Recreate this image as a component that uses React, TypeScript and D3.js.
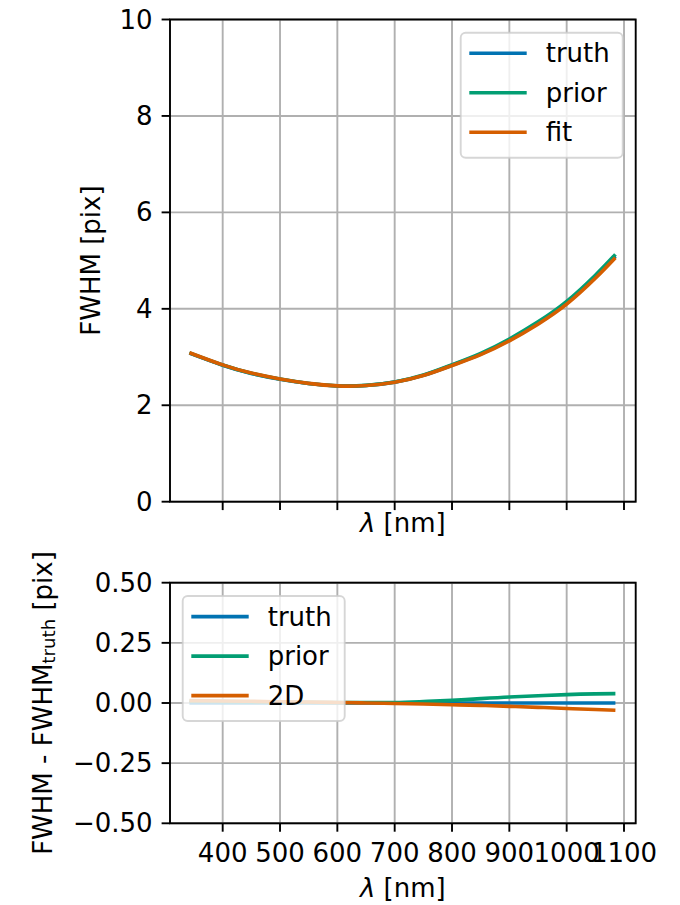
import React from "react";
import * as d3 from "d3";

// Wavelength samples [nm]
const LAMBDA = [342, 400, 450, 500, 550, 600, 650, 700, 750, 800, 850, 900, 950, 1000, 1050, 1085];
// True FWHM [pix]
const TRUTH = [3.08, 2.83, 2.66, 2.54, 2.45, 2.4, 2.41, 2.48, 2.62, 2.83, 3.06, 3.35, 3.7, 4.12, 4.66, 5.09];
// Residuals with respect to the truth [pix]
const TRUTH_RES = [0, 0, 0, 0, 0, 0, 0, 0, 0, 0, 0, 0, 0, 0, 0, 0];
const PRIOR_RES = [0.008, 0.006, 0.005, 0.004, 0.003, 0.002, 0.002, 0.002, 0.006, 0.011, 0.018, 0.025, 0.030, 0.035, 0.038, 0.039];
const FIT_RES = [0.010, 0.008, 0.007, 0.005, 0.004, 0.002, 0.0, -0.002, -0.004, -0.007, -0.010, -0.014, -0.018, -0.023, -0.027, -0.030];

const X_TICKS = [400, 500, 600, 700, 800, 900, 1000, 1100];
const TOP_Y_TICKS = [0, 2, 4, 6, 8, 10];
const BOT_Y_TICKS = [-0.5, -0.25, 0, 0.25, 0.5];
const TOP_LEGEND = ["truth", "prior", "fit"];
const BOT_LEGEND = ["truth", "prior", "2D"];

const COLORS = ["#0173b2", "#029e73", "#d55e00"];
const FONT = "DejaVu Sans, sans-serif";
const FS = 26;
const LW = 3.6;
const AX_LW = 1.9;
const TICK = 8.4;
const GRID = "#b0b0b0";

const X0 = 170;
const X1 = 635.7;
const TOP = { y0: 19.5, y1: 501.7 };
const BOT = { y0: 582.7, y1: 823.3 };

const x = d3.scaleLinear().domain([308.1, 1120.4]).range([X0, X1]);
const yTop = d3.scaleLinear().domain([0, 10]).range([TOP.y1, TOP.y0]);
const yBot = d3.scaleLinear().domain([-0.5, 0.5]).range([BOT.y1, BOT.y0]);

const topSeries = [
  TRUTH,
  TRUTH.map((v, i) => v + PRIOR_RES[i]),
  TRUTH.map((v, i) => v + FIT_RES[i]),
];
const botSeries = [TRUTH_RES, PRIOR_RES, FIT_RES];

function linePath(ys: number[], yScale: d3.ScaleLinear<number, number>) {
  const gen = d3
    .line<number>()
    .x((_, i) => x(LAMBDA[i]))
    .y((v) => yScale(v))
    .curve(d3.curveNatural);
  return gen(ys) || "";
}

function Legend({ bx, by, labels }: { bx: number; by: number; labels: string[] }) {
  const w = 162;
  const h = 125;
  return (
    <g>
      <rect x={bx} y={by} width={w} height={h} rx={5} fill="white" fillOpacity={0.8} stroke="#cccccc" strokeOpacity={0.8} strokeWidth={1.9} />
      {labels.map((lab, i) => {
        const cy = by + 20.6 + i * 39.5;
        return (
          <g key={lab}>
            <line x1={bx + 8.6} x2={bx + 66} y1={cy} y2={cy} stroke={COLORS[i]} strokeWidth={LW} />
            <text x={bx + 85} y={cy} dominantBaseline="central" fontSize={FS} fontFamily={FONT}>
              {lab}
            </text>
          </g>
        );
      })}
    </g>
  );
}

function Panel({
  y0,
  y1,
  yScale,
  yTicks,
  fmt,
  series,
  showXLabels,
  clipId,
}: {
  y0: number;
  y1: number;
  yScale: d3.ScaleLinear<number, number>;
  yTicks: number[];
  fmt: (v: number) => string;
  series: number[][];
  showXLabels: boolean;
  clipId: string;
}) {
  return (
    <g>
      <defs>
        <clipPath id={clipId}>
          <rect x={X0} y={y0} width={X1 - X0} height={y1 - y0} />
        </clipPath>
      </defs>
      {/* grid */}
      {X_TICKS.map((t) => (
        <line key={"gx" + t} x1={x(t)} x2={x(t)} y1={y0} y2={y1} stroke={GRID} strokeWidth={AX_LW} />
      ))}
      {yTicks.map((t) => (
        <line key={"gy" + t} x1={X0} x2={X1} y1={yScale(t)} y2={yScale(t)} stroke={GRID} strokeWidth={AX_LW} />
      ))}
      {/* data */}
      <g clipPath={`url(#${clipId})`}>
        {series.map((s, i) => (
          <path key={i} d={linePath(s, yScale)} fill="none" stroke={COLORS[i]} strokeWidth={LW} strokeLinejoin="round" />
        ))}
      </g>
      {/* x ticks */}
      {X_TICKS.map((t) => (
        <g key={"xt" + t}>
          <line x1={x(t)} x2={x(t)} y1={y1} y2={y1 + TICK} stroke="black" strokeWidth={AX_LW} />
          {showXLabels && (
            <text x={x(t)} y={y1 + 29.5} textAnchor="middle" dominantBaseline="central" fontSize={FS} fontFamily={FONT}>
              {t}
            </text>
          )}
        </g>
      ))}
      {/* y ticks */}
      {yTicks.map((t) => (
        <g key={"yt" + t}>
          <line x1={X0 - TICK} x2={X0} y1={yScale(t)} y2={yScale(t)} stroke="black" strokeWidth={AX_LW} />
          <text x={X0 - TICK - 9} y={yScale(t)} textAnchor="end" dominantBaseline="central" fontSize={FS} fontFamily={FONT}>
            {fmt(t)}
          </text>
        </g>
      ))}
      {/* spines */}
      <rect x={X0} y={y0} width={X1 - X0} height={y1 - y0} fill="none" stroke="black" strokeWidth={AX_LW} strokeLinejoin="miter" />
    </g>
  );
}

function XLabel({ y }: { y: number }) {
  return (
    <text x={(X0 + X1) / 2} y={y} textAnchor="middle" dominantBaseline="central" fontSize={FS} fontFamily={FONT}>
      <tspan fontStyle="italic">λ</tspan> [nm]
    </text>
  );
}

const fmtBot = (v: number) => d3.format(".2f")(v).replace("-", "\u2212");

export default function App() {
  return (
    <svg width={680} height={905} style={{ position: "absolute", left: 0, top: 0, background: "white" }}>
      <rect width={680} height={905} fill="white" />
      <Panel
        y0={TOP.y0}
        y1={TOP.y1}
        yScale={yTop}
        yTicks={TOP_Y_TICKS}
        fmt={(v) => String(v)}
        series={topSeries}
        showXLabels={false}
        clipId="clipTop"
      />
      <XLabel y={523} />
      <text
        transform={`translate(91,${(TOP.y0 + TOP.y1) / 2}) rotate(-90)`}
        textAnchor="middle"
        dominantBaseline="central"
        fontSize={FS}
        fontFamily={FONT}
      >
        FWHM [pix]
      </text>
      <Legend bx={460.7} by={32.7} labels={TOP_LEGEND} />

      <Panel
        y0={BOT.y0}
        y1={BOT.y1}
        yScale={yBot}
        yTicks={BOT_Y_TICKS}
        fmt={fmtBot}
        series={botSeries}
        showXLabels={true}
        clipId="clipBot"
      />
      <XLabel y={888} />
      <text
        transform={`translate(43,${(BOT.y0 + BOT.y1) / 2}) rotate(-90)`}
        textAnchor="middle"
        dominantBaseline="central"
        fontSize={FS}
        fontFamily={FONT}
      >
        FWHM - FWHM
        <tspan fontSize={FS * 0.7} dy={5}>truth</tspan>
        <tspan dy={-5}> [pix]</tspan>
      </text>
      <Legend bx={182.7} by={596} labels={BOT_LEGEND} />
    </svg>
  );
}
